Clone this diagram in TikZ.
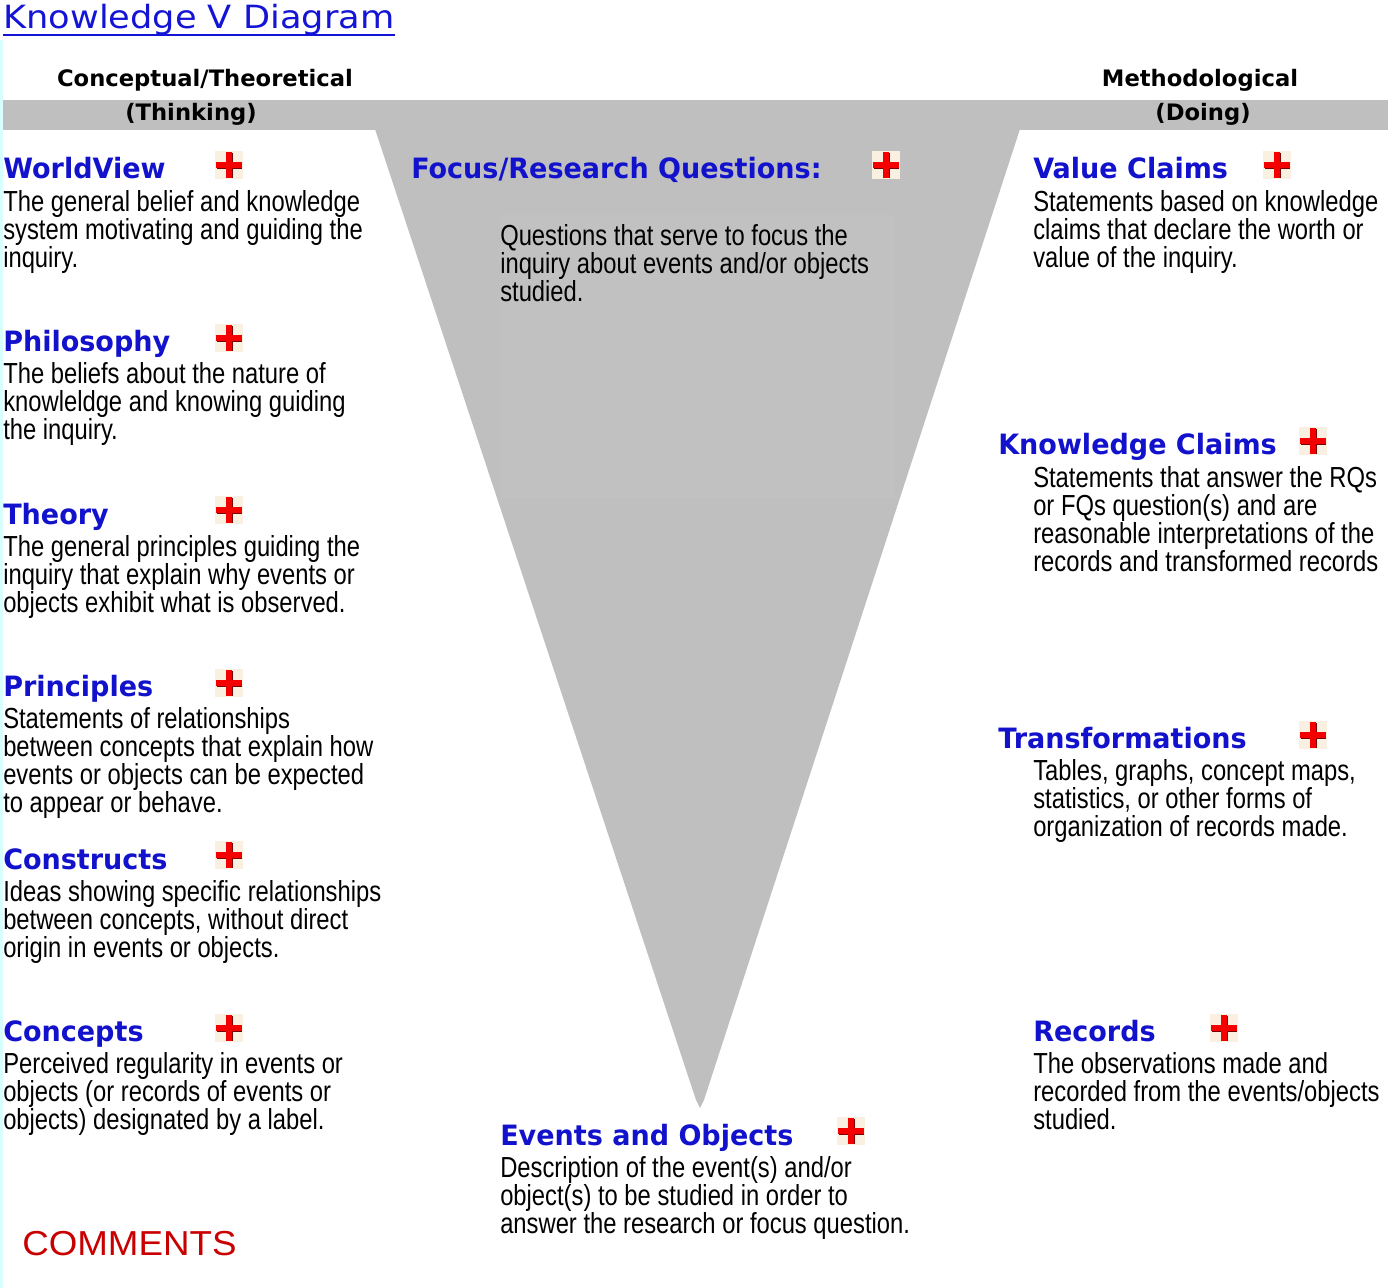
\documentclass[tikz,border=0pt]{standalone}
\usepackage{fontspec}
\setmainfont{Liberation Sans}
\newfontfamily\bodyfont{Liberation Sans}[FakeStretch=0.82]
\newfontfamily\headfont{DejaVu Sans}[FakeStretch=0.965]
\newfontfamily\colfont{DejaVu Sans}
\newfontfamily\titlefont{DejaVu Sans}[FakeStretch=1.1]
\newfontfamily\commentfont{Liberation Sans}[FakeStretch=1.06]
\definecolor{vblue}{RGB}{18,18,205}
\definecolor{tblue}{RGB}{20,20,215}
\definecolor{vgray}{RGB}{191,191,191}
\definecolor{vgraylight}{RGB}{193,193,193}
\definecolor{cream}{RGB}{250,240,225}
\definecolor{plusred}{RGB}{245,0,0}
\definecolor{plusdark}{RGB}{120,0,0}
\definecolor{cmtred}{RGB}{200,0,0}
\definecolor{edgecyan}{RGB}{215,255,255}
% note: multi-line nodes are anchored at the baseline of their LAST line
\tikzset{
  x=0.75pt, y=-0.75pt,
  body/.style={font=\bodyfont\fontsize{21.75}{21}\selectfont, align=left, anchor=base west, inner sep=0pt, text=black},
  head/.style={font=\headfont\bfseries\fontsize{21}{25}\selectfont, anchor=base west, inner sep=0pt, text=vblue},
  colhead/.style={font=\colfont\bfseries\fontsize{17}{20}\selectfont, anchor=base, inner sep=0pt, text=black},
  plusbox/.style={minimum size=21pt, inner sep=0pt, fill=cream,
    path picture={
      \fill[plusdark] ([xshift=-9pt,yshift=-3.2pt]path picture bounding box.center) rectangle ([xshift=10pt,yshift=2.2pt]path picture bounding box.center);
      \fill[plusdark] ([xshift=-2.2pt,yshift=-10pt]path picture bounding box.center) rectangle ([xshift=3.2pt,yshift=9pt]path picture bounding box.center);
      \fill[plusred] ([xshift=-9.5pt,yshift=-2.2pt]path picture bounding box.center) rectangle ([xshift=9.5pt,yshift=2.2pt]path picture bounding box.center);
      \fill[plusred] ([xshift=-2.2pt,yshift=-9.5pt]path picture bounding box.center) rectangle ([xshift=2.2pt,yshift=9.5pt]path picture bounding box.center);
    }},
}
\begin{document}
\begin{tikzpicture}
\useasboundingbox (0,0) rectangle (1400,1288);
\fill[white] (0,0) rectangle (1400,1288);
\fill[edgecyan] (0,40) rectangle (3,1288);
% gray bar and V
\fill[vgray] (3,100) rectangle (1388,130);
\fill[vgray] (375,129) -- (1020,129) -- (704,1100) -- (700,1108) -- (696,1100) -- cycle;
\fill[vgraylight] (500,215) rectangle (895,498);

% title
\node[font=\titlefont\fontsize{24}{28}\selectfont, text=tblue, anchor=base west, inner sep=0pt] (title) at (3,29) {Knowledge V Diagram};
\draw[tblue, line width=1.5pt] ([yshift=-4.5pt]title.base west) -- ([yshift=-4.5pt]title.base east);

% column headers
\node[colhead] (conc) at (205,87) {Conceptual/Theoretical};
\node[colhead] (think) at (191,121) {(Thinking)};
\node[colhead] (meth) at (1200,87) {Methodological};
\node[colhead] (doing) at (1203,121) {(Doing)};

% left column
\node[head] (wvH) at (3,178) {WorldView};
\node[plusbox] (wvP) at (229,165) {};
\node[body] (wvB) at (3,267) {The general belief and knowledge\\system motivating and guiding the\\inquiry.};

\node[head] (phH) at (3,351) {Philosophy};
\node[plusbox] (phP) at (229,338) {};
\node[body] (phB) at (3,439) {The beliefs about the nature of\\knowleldge and knowing guiding\\the inquiry.};

\node[head] (thH) at (3,524) {Theory};
\node[plusbox] (thP) at (229,510) {};
\node[body] (thB) at (3,612) {The general principles guiding the\\inquiry that explain why events or\\objects exhibit what is observed.};

\node[head] (prH) at (3,696) {Principles};
\node[plusbox] (prP) at (229,683) {};
\node[body] (prB) at (3,812) {Statements of relationships\\between concepts that explain how\\events or objects can be expected\\to appear or behave.};

\node[head] (coH) at (3,869) {Constructs};
\node[plusbox] (coP) at (229,855) {};
\node[body] (coB) at (3,957) {Ideas showing specific relationships\\between concepts, without direct\\origin in events or objects.};

\node[head] (cnH) at (3,1041) {Concepts};
\node[plusbox] (cnP) at (229,1028) {};
\node[body] (cnB) at (3,1129) {Perceived regularity in events or\\objects (or records of events or\\objects) designated by a label.};

% center
\node[head] (fqH) at (411,178) {Focus/Research Questions:};
\node[plusbox] (fqP) at (886,165) {};
\node[body] (fqB) at (500,301) {Questions that serve to focus the\\inquiry about events and/or objects\\studied.};

\node[head] (evH) at (500,1145) {Events and Objects};
\node[plusbox] (evP) at (851,1131) {};
\node[body] (evB) at (500,1233) {Description of the event(s) and/or\\object(s) to be studied in order to\\answer the research or focus question.};

% right column
\node[head] (vcH) at (1033,178) {Value Claims};
\node[plusbox] (vcP) at (1277,165) {};
\node[body] (vcB) at (1033,267) {Statements based on knowledge\\claims that declare the worth or\\value of the inquiry.};

\node[head] (kcH) at (998,454) {Knowledge Claims};
\node[plusbox] (kcP) at (1313,441) {};
\node[body] (kcB) at (1033,571) {Statements that answer the RQs\\or FQs question(s) and are\\reasonable interpretations of the\\records and transformed records};

\node[head] (trH) at (998,748) {Transformations};
\node[plusbox] (trP) at (1313,735) {};
\node[body] (trB) at (1033,836) {Tables, graphs, concept maps,\\statistics, or other forms of\\organization of records made.};

\node[head] (rcH) at (1033,1041) {Records};
\node[plusbox] (rcP) at (1224,1028) {};
\node[body] (rcB) at (1033,1129) {The observations made and\\recorded from the events/objects\\studied.};

% comments
\node[font=\commentfont\fontsize{26}{30}\selectfont, text=cmtred, anchor=base west, inner sep=0pt] (cmt) at (22,1255) {COMMENTS};
\end{tikzpicture}
\end{document}
